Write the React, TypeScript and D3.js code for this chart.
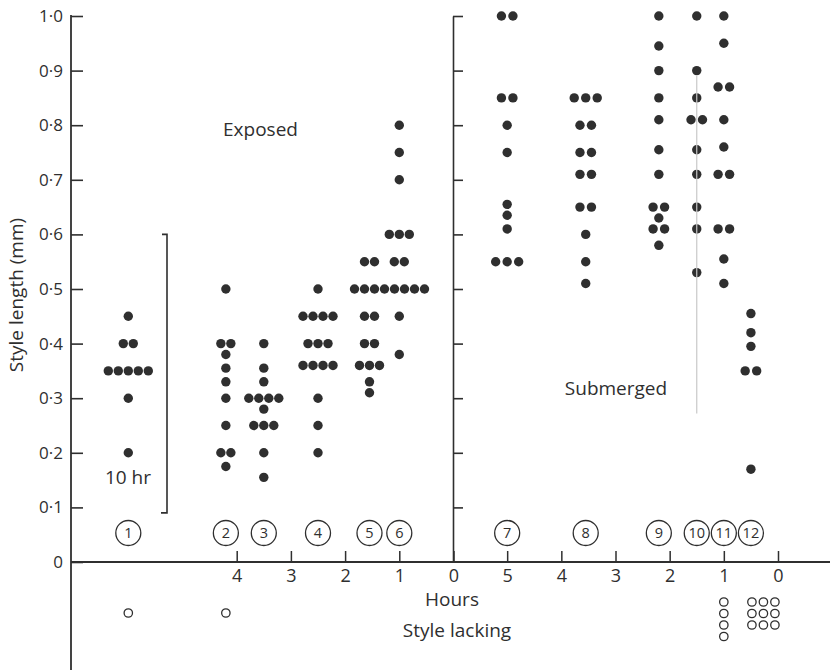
import * as d3 from "d3";
import { useEffect, useRef } from "react";

const W = 830;
const H = 670;

// samples collected while exposed (left half); no. 1 was 10 hr, drawn at the axis break (6)
const exposedIds = ["1", "2", "3", "4", "5", "6"];
const exposedHours = [6, 4.2, 3.5, 2.5, 1.55, 1];

// samples collected while submerged (right half)
const submergedIds = ["7", "8", "9", "10", "11", "12"];
const submergedHours = [5, 3.55, 2.2, 1.5, 1, 0.5];

// style lengths (mm), one entry per flower
const s1 = [0.45, 0.4, 0.4, 0.35, 0.35, 0.35, 0.35, 0.35, 0.3, 0.2];
const s2 = [0.5, 0.4, 0.4, 0.38, 0.355, 0.33, 0.3, 0.25, 0.2, 0.2, 0.175];
const s3 = [0.4, 0.355, 0.33, 0.3, 0.3, 0.3, 0.3, 0.28, 0.25, 0.25, 0.25, 0.2, 0.155];
const s4 = [0.5, 0.45, 0.45, 0.45, 0.45, 0.4, 0.4, 0.4, 0.36, 0.36, 0.36, 0.36, 0.3, 0.25, 0.2];
const s5 = [0.55, 0.55, 0.5, 0.5, 0.5, 0.5, 0.45, 0.45, 0.4, 0.4, 0.36, 0.36, 0.36, 0.33, 0.31];
const s6 = [0.8, 0.75, 0.7, 0.6, 0.6, 0.6, 0.55, 0.55, 0.5, 0.5, 0.5, 0.5, 0.45, 0.38];
const s7 = [1, 1, 0.85, 0.85, 0.8, 0.75, 0.655, 0.635, 0.61, 0.55, 0.55, 0.55];
const s8 = [0.85, 0.85, 0.85, 0.8, 0.8, 0.75, 0.75, 0.71, 0.71, 0.65, 0.65, 0.6, 0.55, 0.51];
const s9 = [1, 0.945, 0.9, 0.85, 0.81, 0.755, 0.71, 0.65, 0.65, 0.63, 0.61, 0.61, 0.58];
const s10 = [1, 0.9, 0.85, 0.81, 0.81, 0.755, 0.71, 0.65, 0.61, 0.53];
const s11 = [1, 0.95, 0.87, 0.87, 0.81, 0.76, 0.71, 0.71, 0.61, 0.61, 0.555, 0.51];
const s12 = [0.455, 0.42, 0.395, 0.35, 0.35, 0.17];

const exposedStyles = [s1, s2, s3, s4, s5, s6];
const submergedStyles = [s7, s8, s9, s10, s11, s12];

// flowers with no style
const lackingIds = ["1", "2", "11", "12"];
const lackingCounts = [1, 1, 4, 9];

const yTicks = [0, 0.1, 0.2, 0.3, 0.4, 0.5, 0.6, 0.7, 0.8, 0.9, 1];
const leftHourTicks = [4, 3, 2, 1, 0];
const rightHourTicks = [5, 4, 3, 2, 1, 0];

type Row = { v: number; n: number; start: number };

// one row per distinct value, centred on the column; pushed right if it hits the previous column
const layoutPanel = (styles: number[][], xs: number[], pitch: number) => {
    const panel: Row[][] = [];
    styles.forEach((vals, i) => {
        const rows: Row[] = d3.groups(vals, v => v).map(([v, arr]) => ({
            v,
            n: arr.length,
            start: xs[i] - ((arr.length - 1) * pitch) / 2
        }));
        if (i > 0) {
            rows.forEach(r => {
                panel[i - 1].forEach(p => {
                    if (Math.abs(p.v - r.v) < 0.02) {
                        const end = p.start + (p.n - 1) * pitch;
                        if (r.start < end + pitch) r.start = end + pitch;
                    }
                });
            });
        }
        panel.push(rows);
    });
    return panel;
};

const App = () => {
    const ref = useRef<SVGSVGElement>(null);

    useEffect(() => {
        const svg = d3.select(ref.current);
        svg.selectAll("*").remove();

        const ink = "#2f2f2f";
        const font = "'Open Sans', 'Noto Sans', sans-serif";

        const y = d3.scaleLinear().domain([0, 1]).range([562, 16]);
        const xL = d3.scaleLinear().domain([0, 6]).range([453.5, 128.3]);
        const xR = d3.scaleLinear().domain([6, 0]).range([453, 778]);
        const x0 = 71;

        // левая ось
        const gL = svg
            .append("g")
            .attr("transform", `translate(${x0},0)`)
            .call(
                d3.axisLeft(y)
                    .tickValues(yTicks)
                    .tickSizeInner(-12)
                    .tickSizeOuter(0)
                    .tickPadding(8)
                    .tickFormat(d => (+d === 0 ? "0" : d3.format(".1f")(+d).replace(".", "·")))
            );
        gL.select(".domain").remove();
        gL.selectAll("line").attr("stroke", ink).attr("stroke-width", 1.6);
        gL.selectAll("text").attr("font-family", font).attr("font-size", 17).attr("fill", ink);

        svg.append("line")
            .attr("x1", x0).attr("x2", x0)
            .attr("y1", y(1) - 1).attr("y2", H)
            .attr("stroke", ink).attr("stroke-width", 1.8);

        // ось посередине
        const gM = svg
            .append("g")
            .attr("transform", `translate(${xR(6)},0)`)
            .call(
                d3.axisRight(y)
                    .tickValues(yTicks.filter(v => v > 0))
                    .tickSizeInner(10)
                    .tickSizeOuter(0)
                    .tickFormat(() => "")
            );
        gM.selectAll("line, path").attr("stroke", ink).attr("stroke-width", 1.6);

        // ось X
        svg.append("line")
            .attr("x1", x0).attr("x2", W)
            .attr("y1", y(0)).attr("y2", y(0))
            .attr("stroke", ink).attr("stroke-width", 1.8);

        [
            { scale: xL, ticks: leftHourTicks },
            { scale: xR, ticks: rightHourTicks }
        ].forEach(a => {
            const g = svg
                .append("g")
                .attr("transform", `translate(0,${y(0)})`)
                .call(
                    d3.axisBottom(a.scale)
                        .tickValues(a.ticks)
                        .tickSizeInner(-11)
                        .tickSizeOuter(0)
                        .tickPadding(7)
                        .tickFormat(d3.format("d"))
                );
            g.select(".domain").remove();
            g.selectAll("line").attr("stroke", ink).attr("stroke-width", 1.5);
            g.selectAll("text").attr("font-family", font).attr("font-size", 18).attr("fill", ink);
        });

        // точки
        const dotR = 4.7;
        const panels = [
            { rows: layoutPanel(exposedStyles, exposedHours.map(h => xL(h)), 10), pitch: 10 },
            { rows: layoutPanel(submergedStyles, submergedHours.map(h => xR(h)), 11.5), pitch: 11.5 }
        ];
        panels.forEach(p => {
            p.rows.flat().forEach(r => {
                d3.range(r.n).forEach(k => {
                    svg.append("circle")
                        .attr("cx", r.start + k * p.pitch)
                        .attr("cy", y(r.v))
                        .attr("r", dotR)
                        .attr("fill", ink);
                });
            });
        });

        // номера проб в кружках
        const labelX = new Map<string, number>();
        exposedIds.forEach((id, i) => labelX.set(id, xL(exposedHours[i])));
        submergedIds.forEach((id, i) => labelX.set(id, xR(submergedHours[i])));

        labelX.forEach((cx, id) => {
            svg.append("circle")
                .attr("cx", cx).attr("cy", 533).attr("r", 12.5)
                .attr("fill", "none").attr("stroke", ink).attr("stroke-width", 1.3);
            svg.append("text")
                .attr("x", cx).attr("y", 533).attr("dy", "0.36em")
                .attr("text-anchor", "middle")
                .attr("font-family", font).attr("font-size", 14.5).attr("fill", ink)
                .text(id);
        });

        // пестик отсутствует
        const step = 11.5;
        lackingIds.forEach((id, i) => {
            const n = lackingCounts[i];
            const cols = n <= 4 ? 1 : Math.ceil(Math.sqrt(n));
            const rowsN = Math.ceil(n / cols);
            const top = rowsN === 1 ? 613 : 602;
            const left = (labelX.get(id) as number) + (cols > 1 ? 1 : 0);
            d3.range(n).forEach(k => {
                svg.append("circle")
                    .attr("cx", left + (k % cols) * step)
                    .attr("cy", top + Math.floor(k / cols) * step)
                    .attr("r", 4.2)
                    .attr("fill", "none").attr("stroke", ink).attr("stroke-width", 1.3);
            });
        });

        // скобка 10 hr
        svg.append("path")
            .attr("d", `M162,${y(0.6)}H167V${y(0.09)}H161`)
            .attr("fill", "none").attr("stroke", ink).attr("stroke-width", 1.6);

        // бледная вертикальная линия
        svg.append("line")
            .attr("x1", xR(1.5)).attr("x2", xR(1.5))
            .attr("y1", y(0.89)).attr("y2", y(0.272))
            .attr("stroke", "#c8c8c8").attr("stroke-width", 1.2);

        // подписи
        const label = (txt: string, x: number, yy: number, size: number) =>
            svg.append("text")
                .attr("x", x).attr("y", yy)
                .attr("text-anchor", "middle")
                .attr("font-family", font).attr("font-size", size).attr("fill", ink)
                .text(txt);

        label("Exposed", 260.5, 136, 19);
        label("Submerged", 616, 395, 19);
        label("10 hr", 128, 484, 19);
        label("Hours", 452, 606, 19);
        label("Style lacking", 457, 637, 19);

        svg.append("text")
            .attr("transform", "translate(23,295) rotate(-90)")
            .attr("text-anchor", "middle")
            .attr("font-family", font).attr("font-size", 19).attr("fill", ink)
            .text("Style length (mm)");
    }, []);

    return (
        <svg
            ref={ref}
            width={W}
            height={H}
            style={{ position: "absolute", left: 0, top: 0, background: "#fff" }}
        />
    );
};

export default App;
